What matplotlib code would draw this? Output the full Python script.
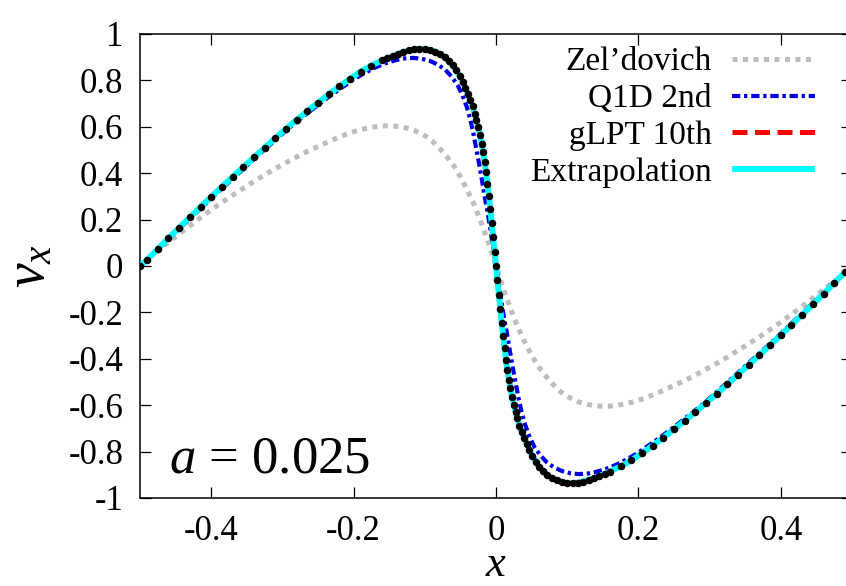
import matplotlib
matplotlib.use("Agg")
import matplotlib.pyplot as plt

plt.rcParams['font.family'] = ['Liberation Serif', 'DejaVu Serif']
plt.rcParams['mathtext.fontset'] = 'custom'
plt.rcParams['mathtext.rm'] = 'Liberation Serif'
plt.rcParams['mathtext.it'] = 'Liberation Serif:italic'

# ---- data: velocity profile v_x(x) at a = 0.025 ----
# converged solution (gLPT 10th / extrapolation / reference points)
x_main = [-0.500, -0.490, -0.475, -0.460, -0.445, -0.430, -0.415, -0.400, -0.385, -0.370,
          -0.355, -0.340, -0.325, -0.310, -0.295, -0.280, -0.265, -0.250, -0.235, -0.220,
          -0.205, -0.190, -0.175, -0.160, -0.1525, -0.145, -0.1375, -0.130, -0.1225, -0.115,
          -0.1075, -0.100, -0.0925, -0.085, -0.078, -0.072, -0.066, -0.061, -0.056, -0.051,
          -0.047, -0.043, -0.0395, -0.036, -0.033, -0.030, -0.0275, -0.025, -0.0225, -0.020,
          -0.018, -0.016, -0.014, -0.012, -0.010, -0.008, -0.006, -0.004, -0.002, 0.000,
          0.002, 0.004, 0.006, 0.008, 0.010, 0.012, 0.014, 0.016, 0.018, 0.020,
          0.0225, 0.025, 0.0275, 0.030, 0.033, 0.036, 0.0395, 0.043, 0.047, 0.051,
          0.056, 0.061, 0.066, 0.072, 0.078, 0.085, 0.0925, 0.100, 0.1075, 0.115,
          0.1225, 0.130, 0.1375, 0.145, 0.1525, 0.160, 0.175, 0.190, 0.205, 0.220,
          0.235, 0.250, 0.265, 0.280, 0.295, 0.310, 0.325, 0.340, 0.355, 0.370,
          0.385, 0.400, 0.415, 0.430, 0.445, 0.460, 0.475, 0.490, 0.500]
v_main = [0.000, 0.028, 0.073, 0.120, 0.165, 0.210, 0.254, 0.298, 0.341, 0.384,
          0.426, 0.468, 0.510, 0.551, 0.591, 0.630, 0.667, 0.704, 0.740, 0.774,
          0.807, 0.838, 0.864, 0.886, 0.896, 0.905, 0.914, 0.922, 0.929, 0.934,
          0.936, 0.935, 0.931, 0.924, 0.913, 0.900, 0.883, 0.866, 0.845, 0.818,
          0.793, 0.766, 0.741, 0.715, 0.688, 0.655, 0.628, 0.598, 0.564, 0.525,
          0.490, 0.450, 0.405, 0.355, 0.302, 0.245, 0.185, 0.124, 0.062, 0.000,
          -0.062, -0.124, -0.185, -0.245, -0.302, -0.355, -0.405, -0.450, -0.490, -0.525,
          -0.564, -0.598, -0.628, -0.655, -0.688, -0.715, -0.741, -0.766, -0.793, -0.818,
          -0.845, -0.866, -0.883, -0.900, -0.913, -0.924, -0.931, -0.935, -0.936, -0.934,
          -0.929, -0.922, -0.914, -0.905, -0.896, -0.886, -0.864, -0.838, -0.807, -0.774,
          -0.740, -0.704, -0.667, -0.630, -0.591, -0.551, -0.510, -0.468, -0.426, -0.384,
          -0.341, -0.298, -0.254, -0.210, -0.165, -0.120, -0.073, -0.028, 0.000]

# Q1D, second order
x_q1d = [-0.500, -0.490, -0.470, -0.450, -0.430, -0.410, -0.390, -0.370, -0.350, -0.330,
         -0.310, -0.290, -0.275, -0.260, -0.245, -0.230, -0.215, -0.200, -0.185, -0.170,
         -0.155, -0.140, -0.128, -0.116, -0.104, -0.092, -0.081, -0.071, -0.062, -0.054,
         -0.047, -0.041, -0.036, -0.032, -0.028, -0.024, -0.020, -0.016, -0.012, -0.008,
         -0.004, 0.000, 0.004, 0.008, 0.012, 0.016, 0.020, 0.024, 0.028, 0.032,
         0.036, 0.041, 0.047, 0.054, 0.062, 0.071, 0.081, 0.092, 0.104, 0.116,
         0.128, 0.140, 0.155, 0.170, 0.185, 0.200, 0.215, 0.230, 0.245, 0.260,
         0.275, 0.290, 0.310, 0.330, 0.350, 0.370, 0.390, 0.410, 0.430, 0.450,
         0.470, 0.490, 0.500]
v_q1d = [0.000, 0.027, 0.085, 0.145, 0.204, 0.262, 0.320, 0.376, 0.432, 0.488,
         0.543, 0.597, 0.634, 0.670, 0.706, 0.740, 0.772, 0.804, 0.831, 0.855,
         0.874, 0.888, 0.895, 0.897, 0.893, 0.883, 0.867, 0.845, 0.815, 0.780,
         0.735, 0.685, 0.630, 0.575, 0.510, 0.445, 0.375, 0.300, 0.235, 0.160,
         0.080, 0.000, -0.080, -0.160, -0.235, -0.300, -0.375, -0.445, -0.510, -0.575,
         -0.630, -0.685, -0.735, -0.780, -0.815, -0.845, -0.867, -0.883, -0.893, -0.897,
         -0.895, -0.888, -0.874, -0.855, -0.831, -0.804, -0.772, -0.740, -0.706, -0.670,
         -0.634, -0.597, -0.543, -0.488, -0.432, -0.376, -0.320, -0.262, -0.204, -0.145,
         -0.085, -0.027, 0.000]

# Zel'dovich approximation
x_zel = [-0.500, -0.485, -0.470, -0.450, -0.430, -0.410, -0.390, -0.370, -0.350, -0.330,
         -0.310, -0.295, -0.280, -0.265, -0.250, -0.235, -0.220, -0.205, -0.190, -0.175,
         -0.160, -0.145, -0.130, -0.115, -0.100, -0.090, -0.080, -0.070, -0.060, -0.050,
         -0.040, -0.030, -0.020, -0.010, 0.000, 0.010, 0.020, 0.030, 0.040, 0.050,
         0.060, 0.070, 0.080, 0.090, 0.100, 0.115, 0.130, 0.145, 0.160, 0.175,
         0.190, 0.205, 0.220, 0.235, 0.250, 0.265, 0.280, 0.295, 0.310, 0.330,
         0.350, 0.370, 0.390, 0.410, 0.430, 0.450, 0.470, 0.485, 0.500]
v_zel = [0.000, 0.040, 0.078, 0.126, 0.174, 0.220, 0.264, 0.305, 0.345, 0.383,
         0.420, 0.445, 0.470, 0.494, 0.515, 0.536, 0.556, 0.574, 0.588, 0.598,
         0.604, 0.604, 0.598, 0.585, 0.562, 0.540, 0.510, 0.475, 0.435, 0.385,
         0.325, 0.260, 0.180, 0.095, 0.000, -0.095, -0.180, -0.260, -0.325, -0.385,
         -0.435, -0.475, -0.510, -0.540, -0.562, -0.585, -0.598, -0.604, -0.604, -0.598,
         -0.588, -0.574, -0.556, -0.536, -0.515, -0.494, -0.470, -0.445, -0.420, -0.383,
         -0.345, -0.305, -0.264, -0.220, -0.174, -0.126, -0.078, -0.040, 0.000]

x_ticks = [-0.4, -0.2, 0.0, 0.2, 0.4]
x_ticklabels = ['-0.4', '-0.2', '0', '0.2', '0.4']
y_ticks = [-1.0, -0.8, -0.6, -0.4, -0.2, 0.0, 0.2, 0.4, 0.6, 0.8, 1.0]
y_ticklabels = ['-1', '-0.8', '-0.6', '-0.4', '-0.2', '0', '0.2', '0.4', '0.6', '0.8', '1']
labels = ["Zel\u2019dovich", "Q1D 2nd", "gLPT 10th", "Extrapolation"]

# ---- figure ----
fig = plt.figure(figsize=(8.46, 5.86), dpi=100)
ax = fig.add_axes([140 / 846, 88 / 586, 712 / 846, 464 / 586])

ax.plot(x_zel, v_zel, color='#bebebe', lw=3.6, dashes=(1.0, 1.1),
        dash_capstyle='butt', label=labels[0], zorder=2)
ax.plot(x_q1d, v_q1d, color='#0000e6', lw=3.0, dashes=(2.0, 0.9, 0.8, 0.9),
        dash_capstyle='butt', label=labels[1], zorder=3)
ax.plot(x_main, v_main, color='#ff0000', lw=3.6, dashes=(3.0, 1.5),
        dash_capstyle='butt', label=labels[2], zorder=4)
ax.plot(x_main, v_main, color='#00ffff', lw=4.2, solid_capstyle='butt',
        label=labels[3], zorder=5)
ax.plot(x_main, v_main, linestyle='none', marker='o', ms=4.4,
        color='black', zorder=6)

ax.set_xlim(-0.5, 0.5)
ax.set_ylim(-1.0, 1.0)
ax.set_xticks(x_ticks)
ax.set_xticklabels(x_ticklabels)
ax.set_yticks(y_ticks)
ax.set_yticklabels(y_ticklabels)
ax.tick_params(direction='in', length=8, width=0.9, top=True, right=True,
               labelsize=25, pad=12, color='black')
for s in ax.spines.values():
    s.set_linewidth(1.1)

ax.set_xlabel('$x$', fontsize=32, va='bottom')
ax.xaxis.set_label_coords(0.5, -0.1875)
ax.set_ylabel('$v_x$', fontsize=40, va='baseline')
ax.yaxis.set_label_coords(-0.135, 0.5)

ax.text(0.041, 0.054, '$a$ = 0.025', transform=ax.transAxes,
        fontsize=38, ha='left', va='baseline')

leg = ax.legend(loc='upper right', bbox_to_anchor=(0.948, 0.972),
                markerfirst=False, alignment='right', frameon=False,
                fontsize=24, handlelength=2.5, handletextpad=0.6,
                labelspacing=0.19, borderpad=0.0, borderaxespad=0.0)

fig.savefig('out.png', dpi=100)
